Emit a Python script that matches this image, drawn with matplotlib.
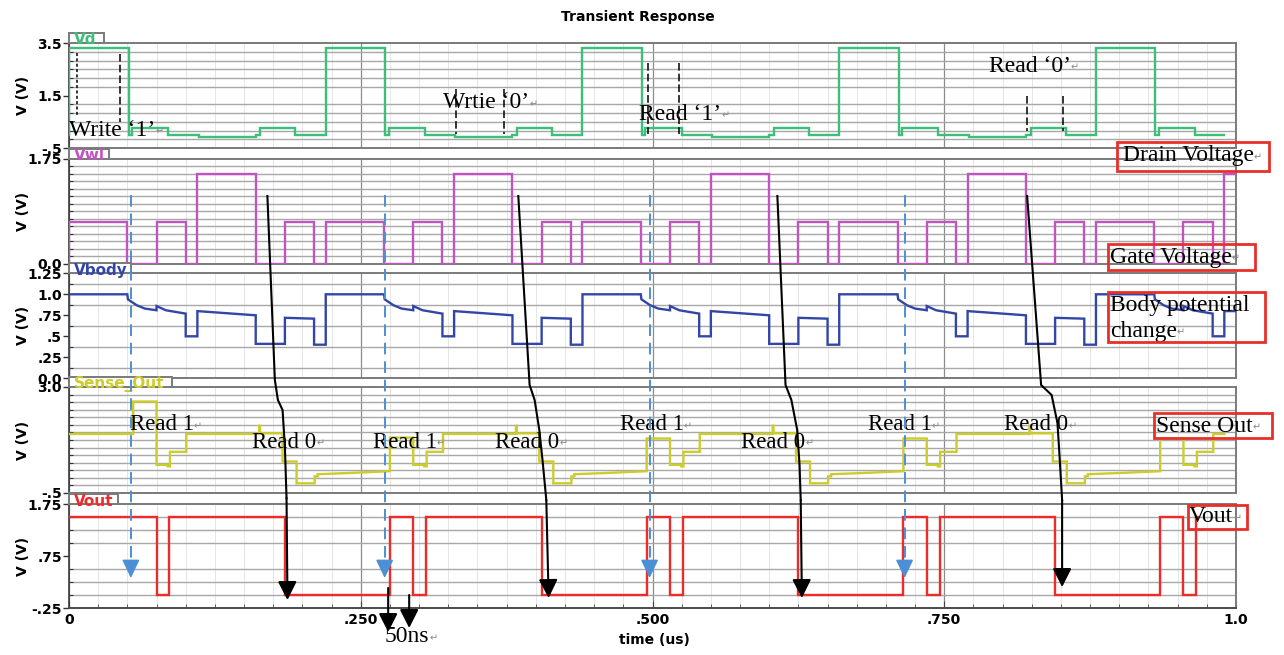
import numpy as np
import matplotlib
matplotlib.use("Agg")
import matplotlib.pyplot as plt
from matplotlib import transforms
from matplotlib.lines import Line2D
from matplotlib.patches import Rectangle, FancyArrowPatch

W, H = 1284, 655

# start of each write/read cycle (us)
cycle_starts = [0.0, 0.22, 0.44, 0.66, 0.88]

# Vd (drain): step levels inside one cycle, offsets from the cycle start
vd_offsets = [0.000, 0.051, 0.054, 0.085, 0.111, 0.160, 0.164, 0.194]
vd_levels = [3.3, 0.0, 0.25, 0.0, -0.07, 0.0, 0.25, 0.0]
vd_start, vd_end = 0.0, 0.99

# Vwl (gate / word line)
vwl_offsets = [0.000, 0.050, 0.075, 0.100, 0.110, 0.160, 0.185, 0.210]
vwl_levels = [0.7, 0.0, 0.7, 0.0, 1.5, 0.0, 0.7, 0.0]
vwl_start, vwl_end = 0.0, 1.0

# Vbody (body potential), drawn as a polyline
vbody_offsets = [0.000, 0.050, 0.0505, 0.058, 0.065, 0.075, 0.075, 0.083, 0.100, 0.100,
                 0.110, 0.110, 0.130, 0.160, 0.160, 0.185, 0.185, 0.210, 0.210, 0.220]
vbody_levels = [1.00, 1.00, 0.94, 0.87, 0.83, 0.81, 0.86, 0.81, 0.77, 0.50,
                0.50, 0.80, 0.78, 0.75, 0.41, 0.41, 0.72, 0.71, 0.40, 0.40]
vbody_start, vbody_end = 0.0, 1.0

# Sense_Out: read pulse height per cycle, then the rest of the cycle
sense_base, sense_end = 1.45, 0.99
sense_pulse_offsets = [0.055, 0.075]
sense_pulse = [2.52, 1.33, 1.30, 1.30, 1.30]
sense_offsets = [0.075, 0.0845, 0.0845, 0.0865, 0.0865, 0.1005, 0.1005, 0.163, 0.163, 0.1637,
                 0.1637, 0.183, 0.183, 0.195, 0.195, 0.2105, 0.2105, 0.213, 0.213, 0.240, 0.275]
sense_levels = [0.43, 0.43, 0.38, 0.38, 0.86, 0.86, 1.45, 1.45, 1.72, 1.72,
                1.47, 1.47, 0.54, 0.54, -0.18, -0.18, 0.05, 0.05, 0.12, 0.16, 0.22]

# Vout
vout_offsets = [0.055, 0.075, 0.086, 0.185]
vout_levels = [1.5, 0.0, 1.5, 0.0]
vout_start, vout_end = 1.5, 0.968

# strips
panel_names = ["Vd", "Vwl", "Vbody", "Sense_Out", "Vout"]
panel_colors = ["#3cbf78", "#c254c2", "#3346a8", "#cccc2a", "#ee2b2b"]
panel_ylim = [(-0.5, 3.5), (0.0, 1.75), (0.0, 1.25), (-0.5, 3.0), (-0.25, 1.75)]
panel_ticks = [[3.5, 1.5, -0.5], [1.75, 0.0], [1.25, 1.0, 0.75, 0.5, 0.25, 0.0],
               [3.0, -0.5], [1.75, 0.75, -0.25]]
panel_ticklabels = [["3.5", "1.5", "-.5"], ["1.75", "0.0"],
                    ["1.25", "1.0", ".75", ".5", ".25", "0.0"],
                    ["3.0", "-.5"], ["1.75", ".75", "-.25"]]
panel_grid_n = [12, 14, 10, 14, 8]
panel_rows = [(43, 148), (158.5, 263.5), (273.3, 378.3), (387, 493), (504, 608.3)]
tab_widths = [35, 40, 62, 103, 49]
x_left, x_right = 69, 1236

time_ticks = [0.0, 0.25, 0.5, 0.75, 1.0]
time_ticklabels = ["0", ".250", ".500", ".750", "1.0"]

# hand-drawn markers on the Vd strip
vd_mark_t = [0.0071, 0.0437, 0.3317, 0.3726, 0.4963, 0.5224, 0.821, 0.852]
vd_mark_top = [3.13, 3.10, 1.73, 1.73, 2.72, 2.72, 1.49, 1.49]
vd_mark_bottom = [0.75, 0.50, 0.02, 0.02, 0.02, 0.02, 0.15, 0.15]

# blue dashed read arrows and black curved arrows
blue_arrow_t = [0.053, 0.2705, 0.4975, 0.716]
curve_t = [[0.170, 0.1764, 0.179, 0.183, 0.185, 0.1864, 0.1872],
           [0.385, 0.3947, 0.399, 0.403, 0.406, 0.409, 0.411],
           [0.607, 0.614, 0.619, 0.624, 0.626, 0.627, 0.628],
           [0.821, 0.833, 0.842, 0.847, 0.849, 0.851, 0.851]]
curve_y = [[196, 380, 400, 410, 447, 498, 600],
           [196, 385, 400, 430, 463, 500, 598],
           [196, 385, 400, 430, 465, 500, 598],
           [196, 385, 395, 423, 460, 500, 587]]
fifty_t = [0.2735, 0.2915]
fifty_y0 = [588, 595]
fifty_y1 = [632, 628]


def fx(x):
    return x / W


def fy(y):
    return 1 - y / H


def build(offsets, levels, start, end):
    t, v = [0.0], [start]
    for p in cycle_starts:
        for o, lv in zip(offsets, levels):
            if p + o <= end:
                t.append(p + o)
                v.append(lv)
    t.append(end)
    v.append(v[-1])
    return t, v


vd_t, vd_v = build(vd_offsets, vd_levels, vd_start, vd_end)
vwl_t, vwl_v = build(vwl_offsets, vwl_levels, vwl_start, vwl_end)
vbody_t, vbody_v = build(vbody_offsets, vbody_levels, vbody_start, vbody_end)
vout_t, vout_v = build(vout_offsets, vout_levels, vout_start, vout_end)

sense_t, sense_v = [0.0], [sense_base]
for p, s in zip(cycle_starts, sense_pulse):
    # hold the previous level up to the read edge
    sense_t.append(p + sense_pulse_offsets[0])
    sense_v.append(sense_v[-1])
    for o, lv in zip(sense_pulse_offsets + sense_offsets, [s, s] + sense_levels):
        if p + o <= sense_end:
            sense_t.append(p + o)
            sense_v.append(lv)
sense_t.append(sense_end)
sense_v.append(sense_v[-1])

series = [(vd_t, vd_v, "steps-post"), (vwl_t, vwl_v, "steps-post"),
          (vbody_t, vbody_v, "default"), (sense_t, sense_v, "default"),
          (vout_t, vout_v, "steps-post")]

plt.rcParams["font.family"] = "DejaVu Sans"
fig = plt.figure(figsize=(W / 100, H / 100), dpi=100)
fig.patch.set_facecolor("white")

axes = []
for i, name in enumerate(panel_names):
    top, bot = panel_rows[i]
    ax = fig.add_axes([fx(x_left), fy(bot), fx(x_right) - fx(x_left), (bot - top) / H])
    t, v, style = series[i]
    ax.plot(t, v, color=panel_colors[i], lw=1.7, drawstyle=style, zorder=3,
            solid_joinstyle="miter")
    lo, hi = panel_ylim[i]
    ax.set_xlim(0, 1.0)
    ax.set_ylim(lo, hi)

    ax.set_yticks(panel_ticks[i])
    ax.set_yticklabels(panel_ticklabels[i], fontweight="bold", fontsize=10)
    ax.set_yticks(np.linspace(lo, hi, panel_grid_n[i] + 1), minor=True)
    ax.set_xticks(time_ticks)
    ax.set_xticks(np.arange(0, 1.0001, 0.025), minor=True)
    ax.grid(axis="y", which="minor", color="#a8a8a8", lw=1.0)
    ax.grid(axis="x", which="minor", color="#e6e6e6", lw=0.7)
    ax.grid(axis="x", which="major", color="#8c8c8c", lw=0.9)
    ax.set_axisbelow(True)
    ax.tick_params(axis="y", which="major", direction="out", length=4, width=1, pad=1,
                   color="#333333")
    ax.tick_params(axis="y", which="minor", direction="in", length=3, width=0.8,
                   color="#333333")
    for side in ["top", "right", "bottom"]:
        ax.spines[side].set_color("#7a7a7a")
        ax.spines[side].set_linewidth(1.4)
    ax.spines["left"].set_color("#3a3a3a")
    ax.spines["left"].set_linewidth(1.2)

    if name == "Vout":
        ax.set_xticklabels(time_ticklabels, fontweight="bold", fontsize=10)
        ax.tick_params(axis="x", which="major", direction="in", length=5, color="#444444")
        ax.tick_params(axis="x", which="minor", direction="in", length=3, color="#444444")
        ax.spines["bottom"].set_color("#4a4a4a")
        ax.set_xlabel("time (us)", fontweight="bold", fontsize=10, labelpad=4)
        ax.xaxis.set_label_coords(0.502, -0.24)
    else:
        ax.tick_params(axis="x", which="both", length=0, labelbottom=False)

    ax.set_ylabel("V (V)", fontweight="bold", fontsize=10)
    ax.yaxis.set_label_coords((30 - x_left) / (x_right - x_left), 0.5)

    # name tab sitting above the strip
    tab_h = 10 / (bot - top)
    ax.add_patch(Rectangle((0, 1), tab_widths[i] / (x_right - x_left), tab_h,
                           transform=ax.transAxes, clip_on=False, facecolor="white",
                           edgecolor="#7a7a7a", lw=1.4, zorder=5))
    fig.text(fx(x_left + 5), fy(top - 3), name, color=panel_colors[i], fontsize=11,
             fontweight="bold", va="center", ha="left", zorder=6)
    axes.append(ax)

ax_vd, ax_vwl, ax_vbody, ax_sense, ax_vout = axes

fig.text(fx(638), fy(17), "Transient Response", fontsize=10, fontweight="bold",
         ha="center", va="center")

# dashed markers on the drain strip
for k, (t, y0, y1) in enumerate(zip(vd_mark_t, vd_mark_top, vd_mark_bottom)):
    dash = (2.0, 1.5) if k == 0 else (5, 2)
    ax_vd.plot([t, t], [y0, y1], color="black", lw=1.1, dashes=dash, zorder=4)

serif = ["Liberation Serif", "DejaVu Serif"]


def word_note(x, y, s, size=17):
    txt = fig.text(fx(x), fy(y), s, fontsize=size, family=serif, ha="left",
                   va="center", zorder=7)
    ax_vout.annotate("\u21b5", xy=(1.0, 0.22), xycoords=txt, fontsize=7, color="#888888",
                     ha="left", va="bottom", annotation_clip=False, zorder=7)
    return txt


word_note(69, 130, "Write \u20181\u2019")
word_note(443, 103, "Wrtie \u20180\u2019")
word_note(639, 114, "Read \u20181\u2019")
word_note(989, 66, "Read \u20180\u2019")

read_x = [130, 252, 373, 495, 620, 741, 868, 1004]
read_y = [425, 442, 442, 442, 425, 442, 425, 425]
read_s = ["Read 1", "Read 0", "Read 1", "Read 0", "Read 1", "Read 0", "Read 1", "Read 0"]
for x, y, s in zip(read_x, read_y, read_s):
    word_note(x, y, s, size=16.5)

word_note(385, 637, "50ns")

# red boxed captions on the right
box_rects = [(1117, 142, 1269, 171), (1108, 244, 1255, 270), (1108, 292, 1265, 342),
             (1154, 413, 1272, 438), (1188, 505, 1247, 529)]
for x0, y0, x1, y1 in box_rects:
    fig.add_artist(Rectangle((fx(x0), fy(y1)), fx(x1) - fx(x0), (y1 - y0) / H,
                             transform=fig.transFigure, fill=False, edgecolor="#e8302a",
                             lw=2.0, zorder=8))
word_note(1123, 156, "Drain Voltage")
word_note(1110, 257, "Gate Voltage")
fig.text(fx(1110), fy(305), "Body potential", fontsize=17, family=serif, ha="left",
         va="center", zorder=7)
word_note(1110, 331, "change")
word_note(1156, 426, "Sense Out")
word_note(1189, 517, "Vout")

blend = transforms.blended_transform_factory(ax_vout.transData, fig.transFigure)

for t in blue_arrow_t:
    fig.add_artist(Line2D([t, t], [fy(195), fy(566)], transform=blend, color="#4d8fd6",
                          lw=1.4, dashes=(6, 3.5), zorder=9))
    fig.add_artist(FancyArrowPatch((t, fy(561)), (t, fy(578)), transform=blend,
                                   arrowstyle="-|>,head_length=0.75,head_width=0.36",
                                   mutation_scale=15, color="#4d8fd6", lw=1.2,
                                   shrinkA=0, shrinkB=0, zorder=9))

for ts, ys in zip(curve_t, curve_y):
    fig.add_artist(Line2D(ts[:-1], [fy(y) for y in ys[:-1]], transform=blend,
                          color="black", lw=1.5, zorder=9))
    fig.add_artist(FancyArrowPatch((ts[-2], fy(ys[-2])), (ts[-1], fy(ys[-1])),
                                   transform=blend,
                                   arrowstyle="-|>,head_length=0.75,head_width=0.38",
                                   mutation_scale=15, color="black", lw=1.5,
                                   shrinkA=0, shrinkB=0, zorder=9))

for t, y0, y1 in zip(fifty_t, fifty_y0, fifty_y1):
    fig.add_artist(FancyArrowPatch((t, fy(y0)), (t, fy(y1)), transform=blend,
                                   arrowstyle="-|>,head_length=0.75,head_width=0.38",
                                   mutation_scale=15, color="black", lw=1.5,
                                   shrinkA=0, shrinkB=0, zorder=9))

fig.savefig("out.png", dpi=100, facecolor="white")
